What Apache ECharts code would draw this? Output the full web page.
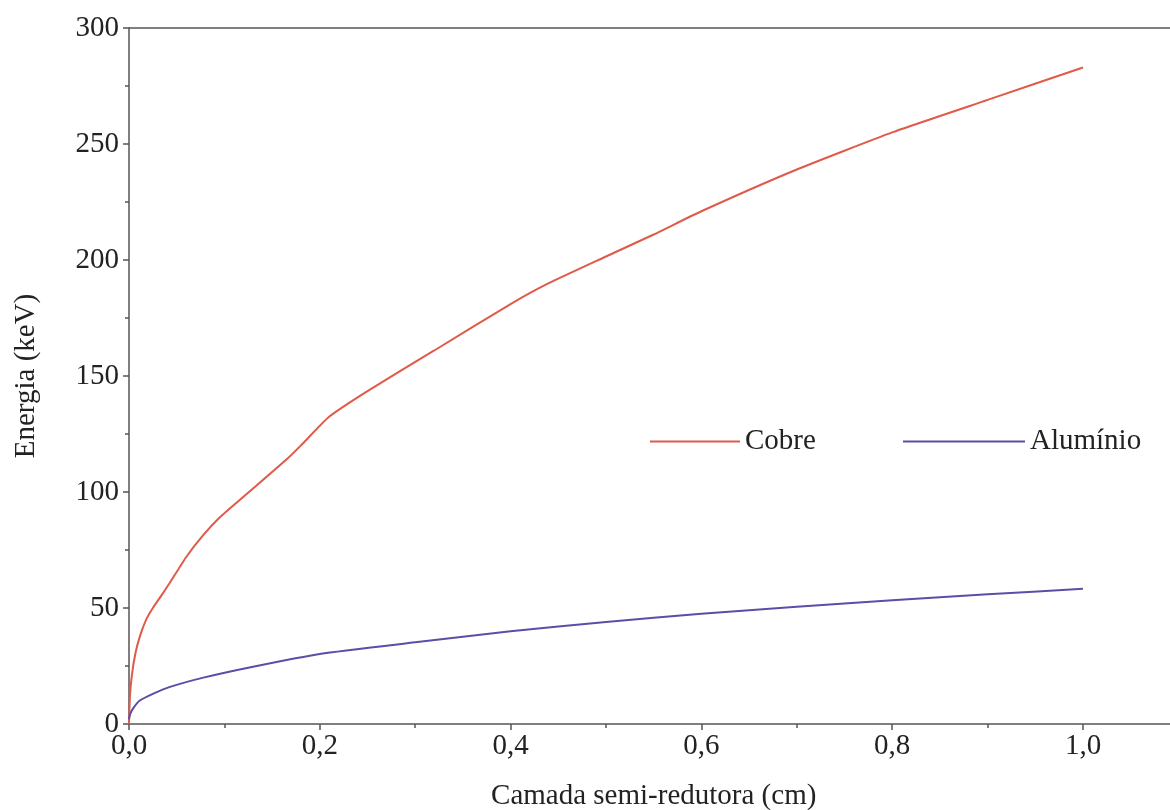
<!DOCTYPE html>
<html>
<head>
<meta charset="utf-8">
<script src="https://cdn.jsdelivr.net/npm/echarts@6/dist/echarts.min.js"></script>
<style>html,body{margin:0;padding:0;background:#fff}#c{width:1170px;height:810px}</style>
</head>
<body>
<div id="c"></div>
<script>
// Data
const cobreX = [0, 0.001, 0.003, 0.007, 0.012, 0.018, 0.025, 0.035, 0.043, 0.06, 0.078, 0.095, 0.113, 0.13, 0.165, 0.18, 0.21, 0.25, 0.32, 0.40, 0.44, 0.50, 0.55, 0.60, 0.70, 0.80, 0.90, 1.0];
const cobreY = [0, 12, 21, 31, 38.5, 45, 50, 56, 61, 72, 81.5, 89, 95.5, 101.5, 114, 120, 132.5, 143.5, 161, 181, 190, 201.5, 211, 221, 239, 255, 269, 283];
const aluX = [0, 0.001, 0.004, 0.011, 0.025, 0.043, 0.078, 0.13, 0.2, 0.3, 0.4, 0.5, 0.6, 0.7, 0.8, 0.9, 1.0];
const aluY = [2, 4, 6.5, 10, 13, 16, 20, 24.7, 30.2, 35.2, 40, 44, 47.5, 50.5, 53.3, 55.9, 58.3];
const seriesNames = ['Cobre', 'Alumínio'];
const xTitle = 'Camada semi-redutora (cm)';
const yTitle = 'Energia (keV)';

const zip = (xs, ys) => xs.map((x, i) => [x, ys[i]]);
const font = 'Liberation Serif';
const txt = '#222';
const axisCol = '#555';

const chart = echarts.init(document.getElementById('c'));
chart.setOption({
  animation: false,
  backgroundColor: '#fff',
  grid: { left: 129, top: 28, width: 1049.4, height: 696, containLabel: false, outerBoundsMode: 'none' },
  legend: [
    { data: [seriesNames[0]], left: 645, top: 422, itemWidth: 90, itemHeight: 2, icon: 'rect',
      textStyle: { fontFamily: font, fontSize: 29, color: txt } },
    { data: [seriesNames[1]], left: 898, top: 422, itemWidth: 122, itemHeight: 2, icon: 'rect',
      textStyle: { fontFamily: font, fontSize: 29, color: txt } }
  ],
  xAxis: [{
    type: 'value', min: 0, max: 1.1, interval: 0.2,
    name: xTitle, nameLocation: 'middle', nameGap: 58,
    nameTextStyle: { fontFamily: font, fontSize: 29, color: txt },
    axisLine: { lineStyle: { color: axisCol, width: 1.5 } },
    axisTick: { length: 6, lineStyle: { color: axisCol, width: 1.5 } },
    minorTick: { show: true, splitNumber: 2, length: 4, lineStyle: { color: axisCol, width: 1.5 } },
    splitLine: { show: false },
    axisLabel: { margin: 8, fontFamily: font, fontSize: 29, color: txt,
      formatter: v => (Math.abs(v - 1.1) < 1e-6 ? '' : v.toFixed(1).replace('.', ',')) }
  }, {
    type: 'value', position: 'top', min: 0, max: 1.1,
    axisLine: { show: true, lineStyle: { color: axisCol, width: 1.5 } },
    axisTick: { show: false }, axisLabel: { show: false }, splitLine: { show: false }
  }],
  yAxis: {
    type: 'value', min: 0, max: 300, interval: 50,
    name: yTitle, nameLocation: 'middle', nameGap: 88, nameRotate: 90,
    nameTextStyle: { fontFamily: font, fontSize: 29, color: txt },
    axisLine: { show: true, lineStyle: { color: axisCol, width: 1.5 } },
    axisTick: { show: true, length: 6, lineStyle: { color: axisCol, width: 1.5 } },
    minorTick: { show: true, splitNumber: 2, length: 4, lineStyle: { color: axisCol, width: 1.5 } },
    splitLine: { show: false },
    axisLabel: { margin: 10, fontFamily: font, fontSize: 29, color: txt }
  },
  series: [
    { name: seriesNames[0], type: 'line', data: zip(cobreX, cobreY), smooth: 0.15, showSymbol: false,
      color: '#e05a4a', lineStyle: { width: 2, color: '#e05a4a' } },
    { name: seriesNames[1], type: 'line', data: zip(aluX, aluY), smooth: 0.2, showSymbol: false,
      color: '#5a4ea8', lineStyle: { width: 2, color: '#5a4ea8' } }
  ]
});
</script>
</body>
</html>
